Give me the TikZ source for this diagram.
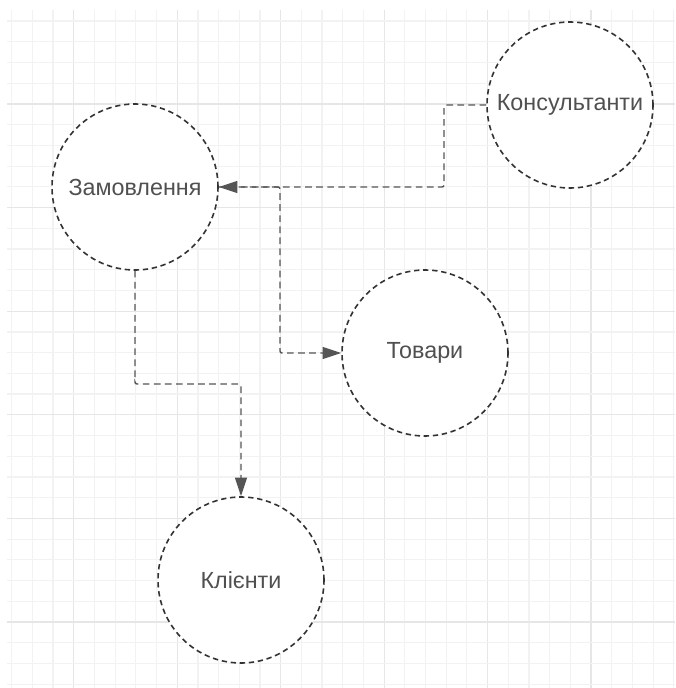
\documentclass[tikz,border=0pt]{standalone}
\usepackage{fontspec}
\setmainfont{Liberation Sans}
\usetikzlibrary{arrows.meta}
\definecolor{gridminor}{HTML}{F2F2F2}
\definecolor{gridmajor}{HTML}{E6E6E6}
\definecolor{circline}{HTML}{333333}
\definecolor{conline}{HTML}{555555}
\definecolor{txt}{HTML}{505050}
\tikzset{
  entity/.style={circle, draw=circline, line width=1.2pt, dash pattern=on 4pt off 2.8pt,
    minimum size=124.5pt, inner sep=0pt, fill=white, text=txt, font=\fontsize{17.5}{20}\selectfont},
  conn/.style={draw=conline, line width=1.1pt, dash pattern=on 5pt off 3.3pt, rounded corners=1.5pt},
  tip/.style={-{Triangle[length=14pt,width=9pt]}}
}
\begin{document}
\begin{tikzpicture}[x=0.75pt,y=-0.75pt]
\useasboundingbox (0,0) rectangle (675,688);
\fill[white] (0,0) rectangle (675,688);
% grid
\foreach \k in {0,...,32}{
  \pgfmathsetmacro{\gx}{11.7+20.69*\k}
  \pgfmathtruncatemacro{\m}{mod(\k,5)}
  \ifnum\m=3
    \draw[gridmajor, line width=0.9pt] (\gx,10) -- (\gx,688);
  \else
    \draw[gridminor, line width=0.9pt] (\gx,10) -- (\gx,688);
  \fi
}
\foreach \j in {0,...,32}{
  \pgfmathsetmacro{\gy}{21.1+20.72*\j}
  \pgfmathtruncatemacro{\m}{mod(\j,5)}
  \ifnum\m=4
    \draw[gridmajor, line width=0.9pt] (7,\gy) -- (675,\gy);
  \else
    \draw[gridminor, line width=0.9pt] (7,\gy) -- (675,\gy);
  \fi
}
% nodes
\node[entity] (zam) at (135,187) {Замовлення};
\node[entity] (kon) at (570,105) {Консультанти};
\node[entity] (tov) at (425,353) {Товари};
\node[entity] (kli) at (241,580) {Клієнти};
% bend points
\coordinate (b1) at (444,187);
\coordinate (b2) at (280,187);
\coordinate (b3) at (135,384);
% connectors
\draw[conn, tip] (kon.west) -| (b1) -- (zam.east);
\draw[conn, tip] (zam.east) -- (b2) |- (tov.west);
\draw[conn, tip] (zam.south) |- (b3) -| (kli.north);
\end{tikzpicture}
\end{document}
